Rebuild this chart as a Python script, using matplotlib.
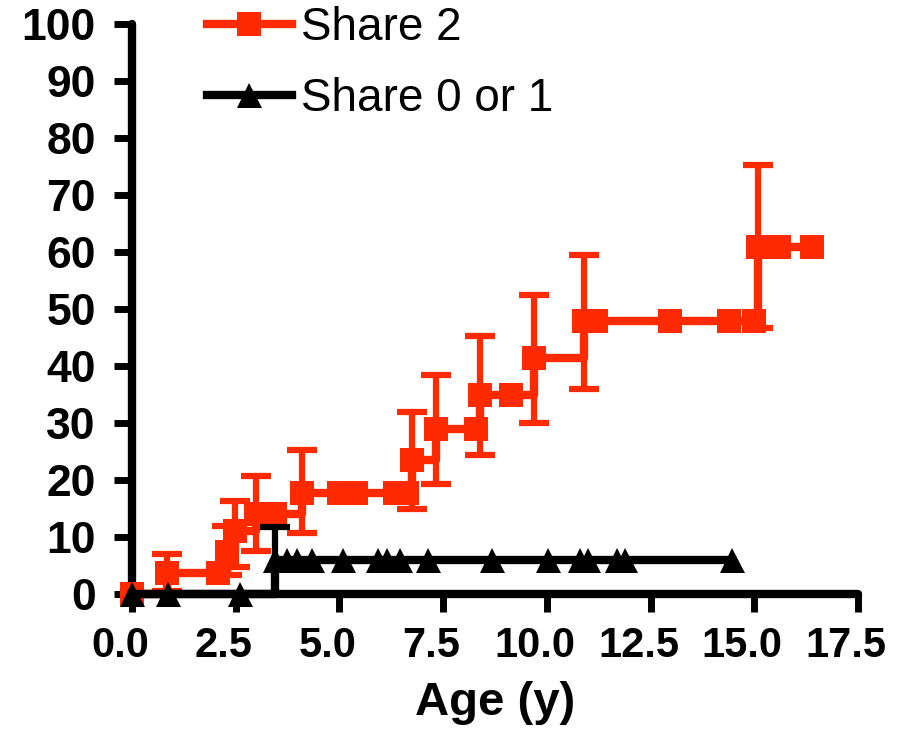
import matplotlib
matplotlib.use("Agg")
import matplotlib.pyplot as plt
import matplotlib.transforms as mtransforms
from matplotlib.lines import Line2D

plt.rcParams['font.family'] = ['Liberation Sans', 'DejaVu Sans']

# Share 2 curve (step points)
red_x = [0, 0.85, 2.07, 2.29, 2.48, 3.0, 3.45, 4.1, 5.0, 5.4, 6.35, 6.62, 6.75,
         7.33, 8.3, 8.4, 9.13, 9.69, 10.89, 11.18, 12.96, 14.4, 14.99, 15.08,
         15.6, 16.39]
red_y = [0, 3.7, 3.7, 7.4, 11.1, 14.0, 14.0, 17.8, 17.8, 17.8, 17.8, 17.8, 23.5,
         29.0, 29.0, 34.9, 34.9, 41.4, 47.9, 47.9, 47.9, 47.9, 47.9, 60.9,
         60.9, 60.9]
# error bars at the steps
red_ev_x = [0.85, 2.29, 2.48, 3.0, 4.1, 6.75, 7.33, 8.4, 9.69, 10.89, 15.08]
red_ev_y = [3.7, 7.4, 11.1, 14.0, 17.8, 23.5, 29.0, 34.9, 41.4, 47.9, 60.9]
red_lo = [0.5, 3.4, 4.7, 7.5, 10.7, 14.9, 19.3, 24.4, 30.0, 36.0, 46.7]
red_hi = [7.0, 11.9, 16.3, 20.7, 25.3, 31.9, 38.4, 45.3, 52.5, 59.5, 75.3]

# Share 0 or 1 curve
blk_x = [0, 0.87, 2.6, 3.45, 3.73, 3.98, 4.34, 5.08, 5.93, 6.14, 6.46, 7.13,
         8.67, 10.02, 10.80, 10.99, 11.69, 11.88, 14.46]
blk_y = [0, 0, 0, 5.9, 5.9, 5.9, 5.9, 5.9, 5.9, 5.9, 5.9, 5.9,
         5.9, 5.9, 5.9, 5.9, 5.9, 5.9, 5.9]
blk_ev_x = [3.45]
blk_ev_y = [5.9]
blk_lo = [0.0]
blk_hi = [11.7]

xticks = [0, 2.5, 5, 7.5, 10, 12.5, 15, 17.5]
yticks = list(range(0, 101, 10))

red = '#FF2A00'

fig = plt.figure(figsize=(9.09, 7.37), dpi=100)
ax = fig.add_axes([0.1452, 0.194, 0.7987, 0.7734])

# red curve
ax.errorbar(red_ev_x, red_ev_y,
            yerr=[[y - l for y, l in zip(red_ev_y, red_lo)],
                  [h - y for y, h in zip(red_ev_y, red_hi)]],
            fmt='none', ecolor=red, elinewidth=4.5, capsize=10.5, capthick=4.5,
            clip_on=False, zorder=2)
ax.plot(red_x, red_y, drawstyle='steps-post', color=red, lw=6,
        clip_on=False, zorder=3)
ax.plot(red_x, red_y, ls='none', marker='s', ms=17, mew=0, color=red,
        clip_on=False, zorder=3)

# black curve
ax.errorbar(blk_ev_x, blk_ev_y,
            yerr=[[y - l for y, l in zip(blk_ev_y, blk_lo)],
                  [h - y for y, h in zip(blk_ev_y, blk_hi)]],
            fmt='none', ecolor='black', elinewidth=4.5, capsize=10.5, capthick=4.5,
            clip_on=False, zorder=4)
ax.plot(blk_x, blk_y, drawstyle='steps-post', color='black', lw=6,
        clip_on=False, zorder=4)
ax.plot(blk_x, blk_y, ls='none', marker='^', ms=18, mew=0, color='black',
        clip_on=False, zorder=4)

ax.set_xlim(0, 17.5)
ax.set_ylim(0, 100)
ax.spines['top'].set_visible(False)
ax.spines['right'].set_visible(False)
for s in ['left', 'bottom']:
    ax.spines[s].set_linewidth(6)
    ax.spines[s].set_capstyle('round')

ax.set_xticks(xticks)
ax.set_xticklabels(['%.1f' % t for t in xticks])
ax.set_yticks(yticks)
ax.tick_params(axis='both', direction='out', length=13, width=5, color='black')
ax.tick_params(axis='x', labelsize=30, pad=10)
ax.tick_params(axis='y', labelsize=32, pad=13)
for lab in ax.get_xticklabels() + ax.get_yticklabels():
    lab.set_fontweight('bold')
shift = mtransforms.ScaledTranslation(-12 / 100, 0, fig.dpi_scale_trans)
for lab in ax.get_xticklabels():
    lab.set_transform(lab.get_transform() + shift)

ax.set_xlabel('Age (y)', fontsize=34, fontweight='bold', labelpad=11)

handles = [
    Line2D([], [], color=red, lw=6, marker='s', ms=17, mew=0),
    Line2D([], [], color='black', lw=6, marker='^', ms=18, mew=0),
]
ax.legend(handles, ['Share 2', 'Share 0 or 1'], loc='upper left',
          bbox_to_anchor=(0.078, 1.064), frameon=False, fontsize=33,
          handlelength=1.85, handletextpad=0.2, labelspacing=0.6,
          borderaxespad=0)

fig.savefig('out.png', dpi=100)
